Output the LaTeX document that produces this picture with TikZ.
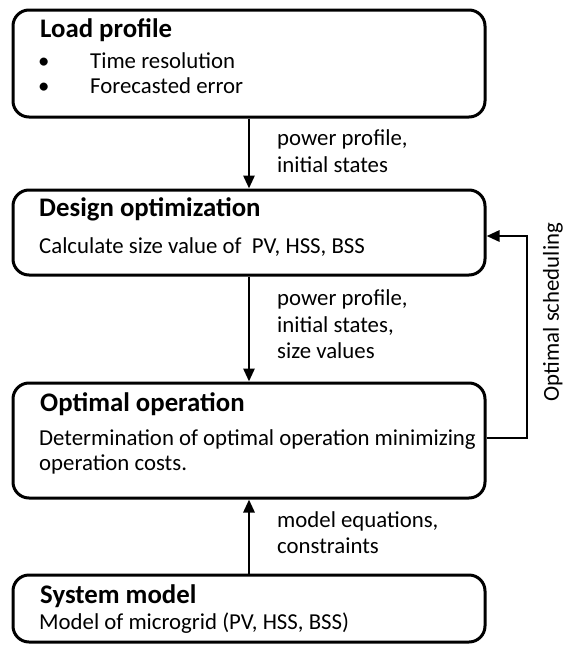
\documentclass[tikz,border=0pt]{standalone}
\usepackage{fontspec}
\setmainfont{Carlito}
\usetikzlibrary{arrows.meta}
\begin{document}
\begin{tikzpicture}[x=1pt,y=-1pt,
  box/.style={draw, line width=3pt, rounded corners=16pt, minimum width=472pt, inner sep=0pt},
  ttl/.style={anchor=base west, inner sep=0pt, font=\fontsize{26.8}{32}\selectfont\bfseries},
  txt/.style={anchor=base west, inner sep=0pt, font=\fontsize{22.8}{27}\selectfont},
  arr/.style={line width=2.8pt, -{Triangle[length=13pt,width=11pt]}}]
\useasboundingbox (0,0) rectangle (569,645);
% boxes
\node[box, minimum height=107pt] (b1) at (249,63.5) {};
\node[box, minimum height=85pt] (b2) at (249,232.5) {};
\node[box, minimum height=115pt] (b3) at (249,440.5) {};
\node[box, minimum height=67pt] (b4) at (249,608.5) {};
% box texts
\node[ttl] (t1) at (40,37) {Load profile};
\node[txt] (u1) at (38,68) {•};
\node[txt] (u2) at (38,93) {•};
\node[txt] (s1) at (90,68) {Time resolution};
\node[txt] (s2) at (90,93) {Forecasted error};
\node[ttl] (t2) at (39,216) {Design optimization};
\node[txt] (d1) at (39,253) {Calculate size value of \ PV, HSS, BSS};
\node[ttl] (t3) at (40,411) {Optimal operation};
\node[txt] (o1) at (39,445) {Determination of optimal operation minimizing};
\node[txt] (o2) at (39,470) {operation costs.};
\node[ttl] (t4) at (40,603) {System model};
\node[txt] (m1) at (39,629) {Model of microgrid (PV, HSS, BSS)};
% arrow labels
\node[txt] (l1) at (277,145) {power profile,};
\node[txt] (l2) at (277,172) {initial states};
\node[txt] (l3) at (277,305) {power profile,};
\node[txt] (l4) at (277,332) {initial states,};
\node[txt] (l5) at (277,358) {size values};
\node[txt] (l6) at (277,527) {model equations,};
\node[txt] (l7) at (277,553) {constraints};
\node[txt, anchor=center, rotate=90] (rs) at (553,312) {Optimal scheduling};
% connectors
\coordinate (fa) at (527,438);
\coordinate (fb) at (527,236);
\draw[arr] (b1.south) -- (b2.north);
\draw[arr] (b2.south) -- (b3.north);
\draw[arr] (b4.north) -- (b3.south);
\draw[arr] (b3.east |- fa) -- (fa) -- (fb) -- (b2.east |- fb);
\end{tikzpicture}
\end{document}
